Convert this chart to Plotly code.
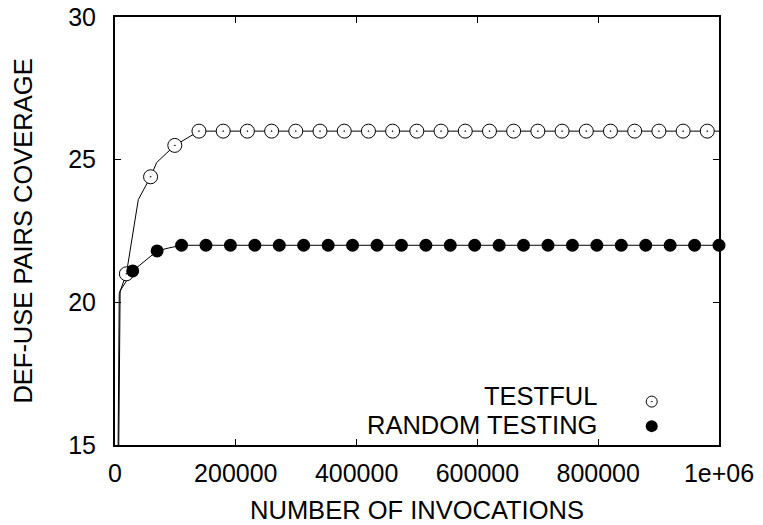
import plotly.graph_objects as go

# ---- data ----
testful_line_x = [0, 7000, 18800, 38600, 58900, 69000, 99000, 139000, 1000000]
testful_line_y = [0, 20.3, 21.0, 23.6, 24.4, 24.9, 25.5, 26.0, 26.0]
testful_pts_x = [18800, 58900, 99000, 139000, 179100, 219200, 259300, 299300, 339400,
                 379500, 419600, 459600, 499700, 539800, 579900, 620000, 660000,
                 700100, 740200, 780300, 820300, 860400, 900500, 940600, 980600]
testful_pts_y = [21.0, 24.4, 25.5] + [26.0] * 22

random_line_x = [0, 8500, 29300, 69700, 88000, 110200, 1000000]
random_line_y = [0, 20.4, 21.1, 21.8, 21.9, 22.0, 22.0]
random_pts_x = [29300, 69700, 110200, 150600, 191100, 231500, 272000, 312400, 352900,
                393300, 433800, 474200, 514700, 555100, 595500, 636000, 676400,
                716900, 757300, 797800, 838200, 878700, 919100, 959600, 1000000]
random_pts_y = [21.1, 21.8] + [22.0] * 23

x_tickvals = [0, 200000, 400000, 600000, 800000, 1000000]
x_ticktext = ["0", "200000", "400000", "600000", "800000", "1e+06"]
y_tickvals = [15, 20, 25, 30]

legend_names = ["TESTFUL", "RANDOM TESTING"]

FONT = "Liberation Sans, Arial, sans-serif"

fig = go.Figure()
fig.add_trace(go.Scatter(x=testful_line_x, y=testful_line_y, mode="lines",
                         line=dict(color="black", width=1), showlegend=False))
fig.add_trace(go.Scatter(x=random_line_x, y=random_line_y, mode="lines",
                         line=dict(color="black", width=1), showlegend=False))
fig.add_trace(go.Scatter(x=testful_pts_x, y=testful_pts_y, mode="markers", cliponaxis=False,
                         marker=dict(symbol="circle-dot", size=14, color="white",
                                     line=dict(color="black", width=1)),
                         showlegend=False))
fig.add_trace(go.Scatter(x=random_pts_x, y=random_pts_y, mode="markers", cliponaxis=False,
                         marker=dict(symbol="circle", size=13, color="black",
                                     line=dict(color="black", width=0)),
                         showlegend=False))

# legend markers on an overlay axis in paper-like units
fig.add_trace(go.Scatter(x=[0.8886], y=[0.1014], xaxis="x2", yaxis="y2", mode="markers",
                         cliponaxis=False,
                         marker=dict(symbol="circle-dot", size=11, color="white",
                                     line=dict(color="black", width=1)),
                         showlegend=False))
fig.add_trace(go.Scatter(x=[0.8886], y=[0.0441], xaxis="x2", yaxis="y2", mode="markers",
                         cliponaxis=False,
                         marker=dict(symbol="circle", size=12, color="black"),
                         showlegend=False))

fig.add_annotation(x=0.801, y=0.1142, xref="paper", yref="paper", text=legend_names[0],
                   showarrow=False, xanchor="right", yanchor="middle",
                   font=dict(family=FONT, size=25.5, color="black"))
fig.add_annotation(x=0.801, y=0.0477, xref="paper", yref="paper", text=legend_names[1],
                   showarrow=False, xanchor="right", yanchor="middle",
                   font=dict(family=FONT, size=25.5, color="black"))

axis_common = dict(showgrid=False, zeroline=False, showline=True, linecolor="black",
                   linewidth=2, mirror="allticks", ticks="inside", ticklen=6,
                   tickwidth=1, tickcolor="black", automargin=False,
                   tickfont=dict(family=FONT, size=25, color="black"))

fig.update_layout(
    width=763, height=525,
    margin=dict(l=115, r=44, t=17, b=80, pad=0),
    paper_bgcolor="white", plot_bgcolor="white",
    xaxis=dict(range=[0, 1000000], tickvals=x_tickvals, ticktext=x_ticktext,
               title=dict(text="NUMBER OF INVOCATIONS", standoff=15,
                          font=dict(family=FONT, size=25.5, color="black")),
               ticklabelstandoff=5, **axis_common),
    yaxis=dict(range=[15, 30], tickvals=y_tickvals,
               title=dict(text="DEF-USE PAIRS COVERAGE", standoff=28,
                          font=dict(family=FONT, size=25.5, color="black")),
               ticklabelstandoff=12, **axis_common),
    xaxis2=dict(range=[0, 1], overlaying="x", visible=False, fixedrange=True),
    yaxis2=dict(range=[0, 1], overlaying="y", visible=False, fixedrange=True),
    showlegend=False,
)

fig.write_html("out.html")
